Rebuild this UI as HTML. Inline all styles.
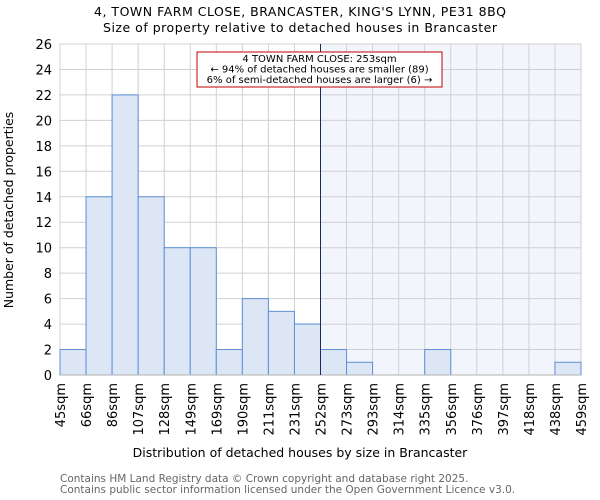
<!DOCTYPE html>
<html><head><meta charset="utf-8"><style>body{margin:0;background:#fff}svg{display:block;font-family:"DejaVu Sans","Liberation Sans",sans-serif}</style></head>
<body>
<svg id="chart" width="600" height="500">
<text x="300" y="16" text-anchor="middle" font-size="12.5" textLength="412">4, TOWN FARM CLOSE, BRANCASTER, KING'S LYNN, PE31 8BQ</text>
<text x="300" y="32" text-anchor="middle" font-size="12.5" textLength="394">Size of property relative to detached houses in Brancaster</text>
<g id="plot"></g>
<text x="300" y="457" text-anchor="middle" font-size="12.5">Distribution of detached houses by size in Brancaster</text>
<text transform="translate(13,210) rotate(-90)" text-anchor="middle" font-size="12.5">Number of detached properties</text>
<text x="60" y="482" font-size="10.5" fill="#666">Contains HM Land Registry data © Crown copyright and database right 2025.</text>
<text x="60" y="493" font-size="10.5" fill="#666">Contains public sector information licensed under the Open Government Licence v3.0.</text>
</svg>
<script>
const binLabels=["45sqm","66sqm","86sqm","107sqm","128sqm","149sqm","169sqm","190sqm","211sqm","231sqm","252sqm","273sqm","293sqm","314sqm","335sqm","356sqm","376sqm","397sqm","418sqm","438sqm","459sqm"];
const counts=[2,14,22,14,10,10,2,6,5,4,2,1,0,0,2,0,0,0,0,1];
const yTicks=[0,2,4,6,8,10,12,14,16,18,20,22,24,26];
const markerBin=10;
const L=60,R=581,T=44,B=375,yMax=26;
const ns="http://www.w3.org/2000/svg";
const g=document.getElementById('plot');
const n=counts.length;
const xs=i=>L+(R-L)*i/n;
const ys=v=>B-(B-T)*v/yMax;
function mk(t,a){const e=document.createElementNS(ns,t);for(const k in a)e.setAttribute(k,a[k]);g.appendChild(e);return e;}
let e=mk('rect',{x:xs(markerBin),y:T,width:R-xs(markerBin),height:B-T,fill:'#f3f5fc'});


yTicks.forEach(v=>{
 let l=mk('line',{x1:L,x2:R,y1:ys(v),y2:ys(v),stroke:'#d0d0d0','stroke-width':1});
 
 
 let t=mk('text',{x:L-8,y:ys(v)+5,'text-anchor':'end','font-size':13});
 t.textContent=v;
 
 
});
binLabels.forEach((s,i)=>{
 let l=mk('line',{x1:xs(i),x2:xs(i),y1:T,y2:B,stroke:'#d0d0d0','stroke-width':1});
 
 
 let t=mk('text',{transform:`translate(${xs(i)+5},383) rotate(-90)`,'text-anchor':'end','font-size':13});
 t.textContent=s;
 
 
});
counts.forEach((c,i)=>{
 let r=mk('rect',{x:xs(i),y:ys(c),width:xs(i+1)-xs(i),height:B-ys(c),fill:'#dce6f4',stroke:'#5b8fd6','stroke-width':1});
 
 
});
let a=mk('line',{x1:L,x2:R,y1:B,y2:B,stroke:'#b0b0b0','stroke-width':1});


let m=mk('line',{x1:xs(markerBin),x2:xs(markerBin),y1:T,y2:B,stroke:'#1a2a5a','stroke-width':1});


let bx=mk('rect',{x:197,y:52,width:245,height:35,fill:'#fff',stroke:'#c00000','stroke-width':1});


[["4 TOWN FARM CLOSE: 253sqm",62],["← 94% of detached houses are smaller (89)",72.5],["6% of semi-detached houses are larger (6) →",83]].forEach(([s,y])=>{
 let t=mk('text',{x:319.5,y:y,'text-anchor':'middle','font-size':10});
 t.textContent=s;
 
 
});
</script>
</body></html>
